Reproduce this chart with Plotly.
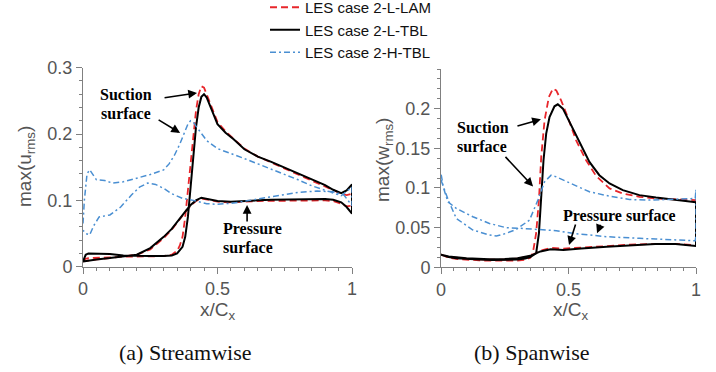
import plotly.graph_objects as go

# ---------------- data: streamwise (u_rms) ----------------
u_lam_ss_x = [0, 0.01, 0.02, 0.05, 0.1, 0.15, 0.2, 0.25, 0.3, 0.33, 0.35, 0.36, 0.37, 0.38, 0.39, 0.40, 0.41, 0.42, 0.43, 0.44, 0.45, 0.46, 0.48, 0.5, 0.53, 0.56, 0.6, 0.65, 0.7, 0.75, 0.8, 0.85, 0.9, 0.93, 0.96, 0.98, 1.0]
u_lam_ss_y = [0.008, 0.012, 0.013, 0.013, 0.014, 0.015, 0.015, 0.015, 0.016, 0.018, 0.024, 0.032, 0.045, 0.075, 0.115, 0.16, 0.2, 0.235, 0.26, 0.272, 0.27, 0.26, 0.24, 0.218, 0.204, 0.193, 0.178, 0.166, 0.157, 0.148, 0.139, 0.13, 0.121, 0.115, 0.11, 0.108, 0.11]
u_lam_ps_x = [0, 0.02, 0.05, 0.1, 0.15, 0.2, 0.25, 0.3, 0.33, 0.36, 0.38, 0.4, 0.42, 0.44, 0.46, 0.5, 0.55, 0.6, 0.65, 0.7, 0.75, 0.8, 0.85, 0.9, 0.93, 0.96, 0.98, 1.0]
u_lam_ps_y = [0.008, 0.009, 0.011, 0.013, 0.015, 0.018, 0.026, 0.043, 0.056, 0.071, 0.082, 0.092, 0.099, 0.103, 0.102, 0.098, 0.097, 0.098, 0.099, 0.1, 0.1, 0.1, 0.1, 0.1, 0.099, 0.095, 0.091, 0.092]

u_ltbl_ss_x = [0, 0.01, 0.02, 0.05, 0.1, 0.15, 0.2, 0.25, 0.3, 0.33, 0.35, 0.37, 0.38, 0.39, 0.40, 0.41, 0.42, 0.43, 0.44, 0.45, 0.46, 0.48, 0.5, 0.53, 0.56, 0.6, 0.65, 0.7, 0.75, 0.8, 0.85, 0.9, 0.93, 0.96, 0.98, 1.0]
u_ltbl_ss_y = [0.008, 0.018, 0.020, 0.020, 0.019, 0.017, 0.016, 0.016, 0.016, 0.017, 0.020, 0.030, 0.045, 0.075, 0.12, 0.17, 0.21, 0.24, 0.256, 0.26, 0.255, 0.235, 0.215, 0.202, 0.192, 0.177, 0.166, 0.158, 0.149, 0.141, 0.132, 0.123, 0.116, 0.111, 0.115, 0.124]
u_ltbl_ps_x = [0, 0.02, 0.05, 0.1, 0.15, 0.2, 0.25, 0.3, 0.33, 0.36, 0.38, 0.4, 0.42, 0.44, 0.46, 0.5, 0.55, 0.6, 0.65, 0.7, 0.75, 0.8, 0.85, 0.9, 0.93, 0.96, 0.98, 1.0]
u_ltbl_ps_y = [0.008, 0.009, 0.011, 0.013, 0.015, 0.018, 0.028, 0.045, 0.057, 0.072, 0.083, 0.093, 0.1, 0.104, 0.103, 0.099, 0.098, 0.099, 0.1, 0.101, 0.102, 0.102, 0.102, 0.102, 0.101, 0.097, 0.09, 0.08]

u_htbl_ss_x = [0, 0.005, 0.015, 0.025, 0.035, 0.05, 0.08, 0.11, 0.15, 0.2, 0.25, 0.3, 0.32, 0.34, 0.36, 0.38, 0.39, 0.40, 0.41, 0.42, 0.44, 0.46, 0.5, 0.55, 0.6, 0.65, 0.7, 0.75, 0.8, 0.85, 0.9, 0.93, 0.96, 1.0]
u_htbl_ss_y = [0.065, 0.10, 0.14, 0.146, 0.14, 0.131, 0.13, 0.126, 0.128, 0.133, 0.139, 0.146, 0.155, 0.168, 0.185, 0.205, 0.215, 0.22, 0.218, 0.212, 0.2, 0.19, 0.178, 0.171, 0.163, 0.155, 0.147, 0.14, 0.131, 0.122, 0.115, 0.111, 0.107, 0.12]
u_htbl_ps_x = [0, 0.01, 0.025, 0.04, 0.06, 0.1, 0.14, 0.18, 0.21, 0.24, 0.27, 0.3, 0.33, 0.37, 0.41, 0.46, 0.5, 0.56, 0.62, 0.68, 0.74, 0.8, 0.87, 0.93, 0.97, 1.0]
u_htbl_ps_y = [0.055, 0.05, 0.048, 0.062, 0.075, 0.078, 0.09, 0.108, 0.12, 0.126, 0.124, 0.118, 0.11, 0.103, 0.1, 0.095, 0.094, 0.096, 0.1, 0.104, 0.108, 0.112, 0.114, 0.113, 0.108, 0.092]

# ---------------- data: spanwise (w_rms) ----------------
w_lam_ss_x = [0, 0.03, 0.06, 0.1, 0.15, 0.2, 0.25, 0.3, 0.33, 0.35, 0.36, 0.373, 0.384, 0.393, 0.406, 0.423, 0.439, 0.452, 0.471, 0.497, 0.53, 0.569, 0.608, 0.661, 0.713, 0.778, 0.843, 0.909, 0.997, 1.0]
w_lam_ss_y = [0.016, 0.012, 0.0105, 0.0095, 0.0088, 0.0083, 0.0082, 0.0085, 0.0095, 0.012, 0.0176, 0.0428, 0.0847, 0.139, 0.185, 0.2147, 0.2252, 0.223, 0.2105, 0.1895, 0.16, 0.135, 0.1153, 0.0994, 0.093, 0.0889, 0.0868, 0.0855, 0.0847, 0.085]
w_lam_ps_x = [0, 0.03, 0.06, 0.1, 0.19, 0.25, 0.3, 0.35, 0.39, 0.43, 0.48, 0.55, 0.65, 0.74, 0.84, 0.92, 1.0]
w_lam_ps_y = [0.016, 0.013, 0.012, 0.011, 0.0095, 0.0098, 0.0108, 0.014, 0.021, 0.0245, 0.0235, 0.0245, 0.0265, 0.0285, 0.0295, 0.0295, 0.028]

w_ltbl_ss_x = [0, 0.03, 0.06, 0.1, 0.15, 0.2, 0.25, 0.3, 0.33, 0.35, 0.36, 0.373, 0.384, 0.393, 0.402, 0.4125, 0.4256, 0.445, 0.458, 0.478, 0.504, 0.53, 0.556, 0.582, 0.621, 0.661, 0.713, 0.778, 0.843, 0.909, 0.997, 1.0]
w_ltbl_ss_y = [0.016, 0.013, 0.0115, 0.0105, 0.0098, 0.0093, 0.0092, 0.0098, 0.011, 0.013, 0.015, 0.0176, 0.0428, 0.0847, 0.135, 0.1686, 0.1895, 0.203, 0.2055, 0.2, 0.1832, 0.1644, 0.1476, 0.1329, 0.1161, 0.1057, 0.0973, 0.091, 0.088, 0.0855, 0.0826, 0.082]
w_ltbl_ps_x = [0, 0.03, 0.06, 0.1, 0.19, 0.25, 0.3, 0.35, 0.39, 0.43, 0.48, 0.55, 0.65, 0.74, 0.84, 0.92, 1.0]
w_ltbl_ps_y = [0.016, 0.0135, 0.0125, 0.0115, 0.010, 0.0105, 0.0113, 0.0145, 0.020, 0.0228, 0.0218, 0.0238, 0.026, 0.028, 0.0293, 0.0293, 0.0268]

w_htbl_ss_x = [0, 0.01, 0.027, 0.06, 0.125, 0.19, 0.217, 0.256, 0.295, 0.347, 0.38, 0.406, 0.432, 0.452, 0.504, 0.582, 0.661, 0.739, 0.817, 0.909, 0.997, 1.0]
w_htbl_ss_y = [0.11, 0.1, 0.086, 0.0616, 0.047, 0.0407, 0.0394, 0.0428, 0.0478, 0.0595, 0.0847, 0.1078, 0.1161, 0.114, 0.1065, 0.0952, 0.0897, 0.0855, 0.0847, 0.0855, 0.0868, 0.098]
w_htbl_ps_x = [0, 0.01, 0.027, 0.06, 0.125, 0.19, 0.256, 0.321, 0.386, 0.452, 0.517, 0.582, 0.648, 0.713, 0.778, 0.843, 0.909, 0.997, 1.0]
w_htbl_ps_y = [0.118, 0.1, 0.0826, 0.0742, 0.0637, 0.0553, 0.0499, 0.049, 0.0478, 0.0461, 0.0428, 0.0407, 0.0386, 0.0373, 0.0365, 0.0356, 0.0352, 0.0335, 0.04]

case_names = ["LES case 2-L-LAM", "LES case 2-L-TBL", "LES case 2-H-TBL"]
x_ticks = [0, 0.5, 1]
x_ticktext = ["0", "0.5", "1"]
u_ticks = [0, 0.1, 0.2, 0.3]
u_ticktext = ["0", "0.1", "0.2", "0.3"]
w_ticks = [0, 0.05, 0.1, 0.15, 0.2]
w_ticktext = ["0", "0.05", "0.1", "0.15", "0.2"]

# ---------------- styling ----------------
RED = "#e8262b"
BLACK = "#000000"
BLUE = "#4a8fd2"
styles = [
    dict(color=RED, width=1.8, dash="7px,4px"),
    dict(color=BLACK, width=2.0),
    dict(color=BLUE, width=1.5, dash="6px,3px,2px,3px"),
]
AXC = "#808080"
TICKC = "#555555"
SANS = "Liberation Sans, Arial, sans-serif"
SERIF = "Liberation Serif, Times New Roman, serif"


def loop(ssx, ssy, psx, psy):
    return list(ssx) + list(reversed(psx)), list(ssy) + list(reversed(psy))


fig = go.Figure()
u_sets = [(u_lam_ss_x, u_lam_ss_y, u_lam_ps_x, u_lam_ps_y),
          (u_ltbl_ss_x, u_ltbl_ss_y, u_ltbl_ps_x, u_ltbl_ps_y),
          (u_htbl_ss_x, u_htbl_ss_y, u_htbl_ps_x, u_htbl_ps_y)]
w_sets = [(w_lam_ss_x, w_lam_ss_y, w_lam_ps_x, w_lam_ps_y),
          (w_ltbl_ss_x, w_ltbl_ss_y, w_ltbl_ps_x, w_ltbl_ps_y),
          (w_htbl_ss_x, w_htbl_ss_y, w_htbl_ps_x, w_htbl_ps_y)]

for name, st, s in zip(case_names, styles, u_sets):
    x, y = loop(*s)
    fig.add_trace(go.Scatter(x=x, y=y, mode="lines", name=name, line=st,
                             showlegend=True, xaxis="x", yaxis="y"))
for name, st, s in zip(case_names, styles, w_sets):
    x, y = loop(*s)
    fig.add_trace(go.Scatter(x=x, y=y, mode="lines", name=name, line=st,
                             showlegend=False, xaxis="x2", yaxis="y2"))

W, H = 716, 372


def px(xp):
    return xp / W


def py(yp):
    return (H - yp) / H


axis_common = dict(showline=True, linecolor=AXC, linewidth=1, ticks="outside", ticklen=6,
                   tickcolor=AXC, tickwidth=1, showgrid=False, zeroline=False,
                   tickfont=dict(family=SANS, size=18, color=TICKC))

fig.update_layout(
    width=W, height=H, margin=dict(l=0, r=0, t=0, b=0, autoexpand=False),
    paper_bgcolor="white", plot_bgcolor="white",
    xaxis=dict(domain=[px(83), px(352)], range=[0, 1], anchor="y",
               tickvals=x_ticks, ticktext=x_ticktext,
               minor=dict(ticks="outside", ticklen=3, tickcolor=AXC, dtick=0.05, tick0=0, showgrid=False),
               **axis_common),
    yaxis=dict(domain=[py(266.7), py(67.7)], range=[0, 0.3], anchor="x",
               tickvals=u_ticks, ticktext=u_ticktext,
               minor=dict(ticks="outside", ticklen=3, tickcolor=AXC, dtick=0.02, tick0=0, showgrid=False),
               **axis_common),
    xaxis2=dict(domain=[px(441), px(696)], range=[0, 1], anchor="y2",
                tickvals=x_ticks, ticktext=x_ticktext,
                minor=dict(ticks="outside", ticklen=3, tickcolor=AXC, dtick=0.05, tick0=0, showgrid=False),
                **axis_common),
    yaxis2=dict(domain=[py(267.3), py(69)], range=[0, 0.25], anchor="x2",
                tickvals=w_ticks, ticktext=w_ticktext,
                minor=dict(ticks="outside", ticklen=3, tickcolor=AXC, dtick=0.0125, tick0=0, showgrid=False),
                **axis_common),
    legend=dict(x=px(265), y=py(-9), xanchor="left", yanchor="top",
                font=dict(family=SANS, size=15, color="#111111"),
                bgcolor="rgba(0,0,0,0)", borderwidth=0),
    showlegend=True,
)

ann = []
C = dict(xanchor="center", yanchor="middle", xref="paper", yref="paper", showarrow=False)
# axis titles
ann.append(dict(text="max(u<sub>rms</sub>)", x=px(26), y=py(167), textangle=-90,
                font=dict(family=SANS, size=19, color=TICKC), **C))
ann.append(dict(text="max(w<sub>rms</sub>)", x=px(384), y=py(160), textangle=-90,
                font=dict(family=SANS, size=19, color=TICKC), **C))
ann.append(dict(text="x/C<sub>x</sub>", x=px(218), y=py(311),
                font=dict(family=SANS, size=19, color=TICKC), **C))
ann.append(dict(text="x/C<sub>x</sub>", x=px(571), y=py(311),
                font=dict(family=SANS, size=19, color=TICKC), **C))
# captions
ann.append(dict(text="(a) Streamwise", x=px(185), y=py(352),
                font=dict(family=SERIF, size=22, color="#111111"), **C))
ann.append(dict(text="(b) Spanwise", x=px(531), y=py(352),
                font=dict(family=SERIF, size=22, color="#111111"), **C))

BF = dict(family=SERIF, size=16, color="black")
labels = [("<b>Suction</b>", 126, 94), ("<b>surface</b>", 126, 113),
          ("<b>Pressure</b>", 252, 228), ("<b>surface</b>", 248, 247),
          ("<b>Suction</b>", 483, 127), ("<b>surface</b>", 482, 146),
          ("<b>Pressure surface</b>", 619, 215)]
for t, xp, yp in labels:
    ann.append(dict(text=t, x=px(xp), y=py(yp), font=BF, height=16, valign="middle", **C))

arrows = [("x", "y", 0.424, 0.262, -34, 5),
          ("x", "y", 0.361, 0.2017, -23, -14),
          ("x", "y", 0.61, 0.093, 0, 18),
          ("x2", "y2", 0.392, 0.1865, -25, 7),
          ("x2", "y2", 0.361, 0.102, -29, -31),
          ("x2", "y2", 0.502, 0.028, 7, -22),
          ("x2", "y2", 0.612, 0.043, 4, -10)]
for xr, yr, xa, ya, axp, ayp in arrows:
    ann.append(dict(x=xa, y=ya, xref=xr, yref=yr, ax=axp, ay=ayp, text="", showarrow=True,
                    arrowhead=2, arrowsize=1.1, arrowwidth=1.6, arrowcolor="black"))

fig.update_layout(annotations=ann)
fig.write_html("out.html")
